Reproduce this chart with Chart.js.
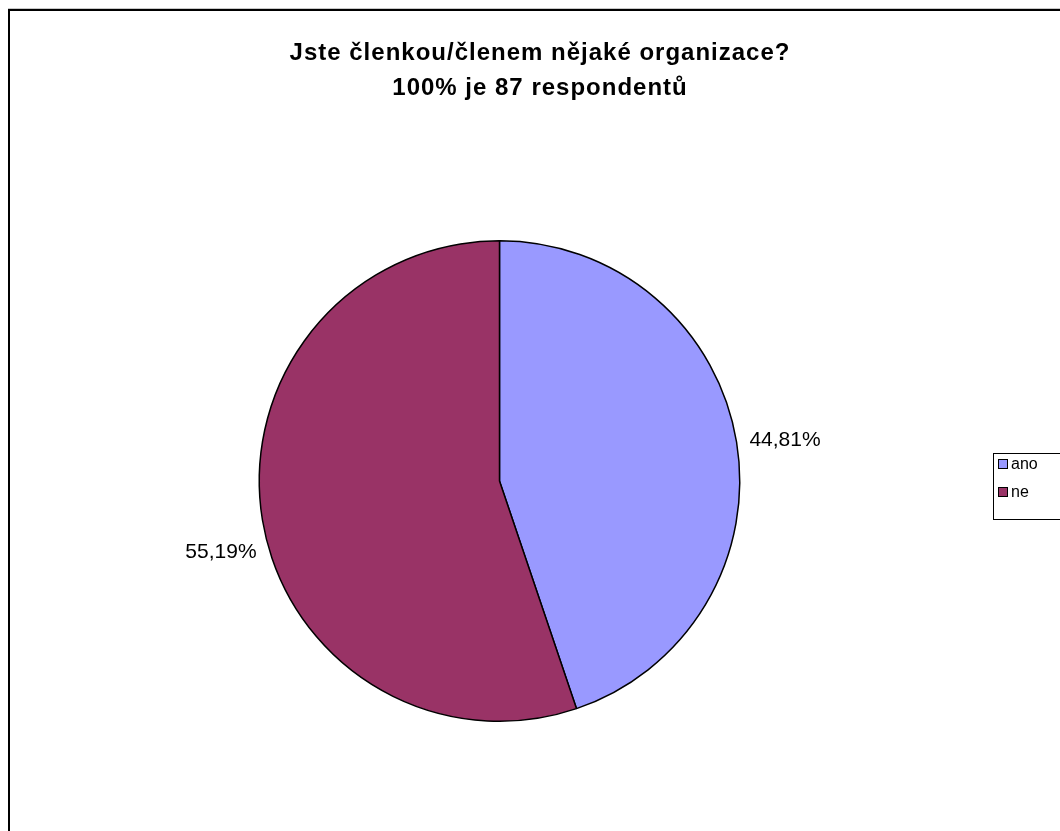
<!DOCTYPE html>
<html>
<head>
<meta charset="utf-8">
<script src="https://cdn.jsdelivr.net/npm/chart.js@4.4.1/dist/chart.umd.min.js"></script>
<style>
  html, body { margin: 0; padding: 0; background: #fff; }
  #wrap { width: 1060px; height: 831px; }
</style>
</head>
<body>
<div id="wrap"><canvas id="membership" width="1060" height="831"></canvas></div>
<script>
const labels = ['ano', 'ne'];
const shares = [44.81, 55.19];
const colors = ['#9999FF', '#993366'];
const titleLines = ['Jste členkou/členem nějaké organizace?', '100% je 87 respondentů'];
// vertical shift of each percentage label from its anchor
const labelNudgeY = [0, 31];

const FONT = '"Liberation Sans", Arial, sans-serif';

// frame, title, percentage labels and the legend box are drawn by hand
const decorations = {
    id: 'decorations',
    beforeDraw(chart) {
        const ctx = chart.ctx;
        ctx.save();
        ctx.strokeStyle = '#c8c8c8';
        ctx.lineWidth = 1;
        ctx.beginPath();
        ctx.moveTo(8, 8.5);
        ctx.lineTo(1060, 8.5);
        ctx.stroke();
        ctx.strokeStyle = '#000';
        ctx.lineWidth = 2;
        ctx.strokeRect(9, 10, 1200, 1000);

        ctx.fillStyle = '#000';
        ctx.font = 'bold 24px ' + FONT;
        ctx.letterSpacing = '1px';
        ctx.textAlign = 'center';
        ctx.textBaseline = 'alphabetic';
        ctx.fillText(titleLines[0], 540, 60);
        ctx.fillText(titleLines[1], 540, 95);
        ctx.restore();
    },
    afterDraw(chart) {
        const ctx = chart.ctx;
        const meta = chart.getDatasetMeta(0);
        ctx.save();
        ctx.font = '21px ' + FONT;
        ctx.fillStyle = '#000';
        ctx.textBaseline = 'middle';
        meta.data.forEach((arc, i) => {
            const mid = (arc.startAngle + arc.endAngle) / 2;
            const r = arc.outerRadius + 10;
            const x = arc.x + Math.cos(mid) * r;
            const y = arc.y + Math.sin(mid) * r;
            const right = Math.cos(mid) >= 0;
            ctx.textAlign = right ? 'left' : 'right';
            const text = shares[i].toFixed(2).replace('.', ',') + '%';
            ctx.fillText(text, x + (right ? 3 : 4), y + labelNudgeY[i]);
        });

        // legend
        ctx.fillStyle = '#fff';
        ctx.fillRect(993, 453, 100, 66);
        ctx.strokeStyle = '#000';
        ctx.lineWidth = 1;
        ctx.strokeRect(993.5, 453.5, 100, 66);
        ctx.font = '16px ' + FONT;
        ctx.textAlign = 'left';
        labels.forEach((lab, i) => {
            const cy = 464 + i * 28;
            ctx.fillStyle = colors[i];
            ctx.fillRect(998.5, cy - 4.5, 9, 9);
            ctx.strokeRect(998.5, cy - 4.5, 9, 9);
            ctx.fillStyle = '#000';
            ctx.fillText(lab, 1011, cy + 1);
        });
        ctx.restore();
    }
};

new Chart(document.getElementById('membership'), {
    type: 'pie',
    data: {
        labels: labels,
        datasets: [{
            data: shares,
            backgroundColor: colors,
            borderColor: '#000',
            borderWidth: 1.5
        }]
    },
    options: {
        responsive: false,
        animation: false,
        layout: {
            padding: { left: 258, right: 319, top: 240, bottom: 109 }
        },
        plugins: {
            legend: { display: false },
            title: { display: false },
            tooltip: { enabled: false }
        }
    },
    plugins: [decorations]
});
</script>
</body>
</html>
